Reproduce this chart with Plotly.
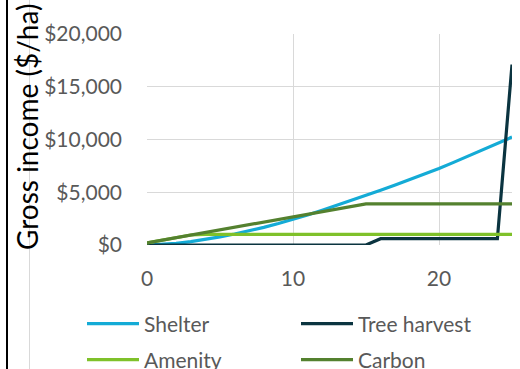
import plotly.graph_objects as go

years = list(range(26))
shelter = [0, 50, 150, 320, 530, 770, 1040, 1340, 1670, 2030, 2420, 2840, 3300, 3760,
           4230, 4700, 5190, 5690, 6200, 6720, 7250, 7830, 8420, 9020, 9620, 10230]
tree_harvest = [0, 0, 0, 0, 0, 0, 0, 0, 0, 0, 0, 0, 0, 0, 0, 0,
                600, 600, 600, 600, 600, 600, 600, 600, 600, 17100]
amenity = [200, 450, 700, 950, 1000, 1000, 1000, 1000, 1000, 1000, 1000, 1000, 1000,
           1000, 1000, 1000, 1000, 1000, 1000, 1000, 1000, 1000, 1000, 1000, 1000, 1000]
carbon = [200, 447, 693, 940, 1187, 1433, 1680, 1927, 2173, 2420, 2667, 2913, 3160,
          3407, 3653, 3900, 3900, 3900, 3900, 3900, 3900, 3900, 3900, 3900, 3900, 3900]

y_ticks = [0, 5000, 10000, 15000, 20000]
y_tick_labels = ["$0", "$5,000", "$10,000", "$15,000", "$20,000"]
x_ticks = [0, 10, 20]

FONT = "Lato"
GRAY = "#595959"
GRID = "#d9d9d9"

series = [
    ("Shelter", shelter, "#14abd6", "legend"),
    ("Tree harvest", tree_harvest, "#0b3440", "legend"),
    ("Amenity", amenity, "#7fc12a", "legend2"),
    ("Carbon", carbon, "#54812f", "legend2"),
]

fig = go.Figure()
for name, vals, color, lg in series:
    fig.add_trace(go.Scatter(x=years, y=vals, name=name, mode="lines",
                             line=dict(color=color, width=3.2), legend=lg))

W, H = 520, 369
ML, MR, MT, MB = 147, 8, 34, 124
pw = W - ML - MR
ph = H - MT - MB

def px(xp):
    return (xp - ML) / pw

def py(yp):
    return (H - MB - yp) / ph

legend_common = dict(orientation="h", xanchor="left", yanchor="middle",
                     font=dict(family=FONT, size=21, color=GRAY),
                     entrywidth=147, entrywidthmode="pixels",
                     bgcolor="rgba(0,0,0,0)", itemwidth=52,
                     itemclick=False)

fig.update_layout(
    width=W, height=H,
    margin=dict(l=ML, r=MR, t=MT, b=MB, autoexpand=False),
    paper_bgcolor="white", plot_bgcolor="white",
    showlegend=True,
    legend=dict(x=px(82), y=py(324), **legend_common),
    legend2=dict(x=px(82), y=py(360), **legend_common),
    xaxis=dict(range=[0, 25], tickvals=x_ticks, showgrid=True, gridcolor=GRID,
               gridwidth=1.3, zeroline=False, showline=False, automargin=False,
               tickfont=dict(family=FONT, size=21, color=GRAY),
               ticklabelstandoff=19),
    yaxis=dict(range=[0, 20000], tickvals=y_ticks, ticktext=y_tick_labels,
               showgrid=True, gridcolor=GRID, gridwidth=1.3, zeroline=False,
               showline=False, automargin=False,
               tickfont=dict(family=FONT, size=21, color=GRAY),
               ticklabelstandoff=24),
    annotations=[dict(text="Gross income ($/ha)", textangle=-90, showarrow=False,
                      xref="paper", yref="paper", x=px(27), y=py(127),
                      xanchor="center", yanchor="middle",
                      font=dict(family=FONT, size=28, color="black"))],
    shapes=[
        dict(type="line", xref="paper", yref="paper", x0=px(7), x1=px(7),
             y0=py(0), y1=py(H), line=dict(color="black", width=2)),
        dict(type="line", xref="paper", yref="paper", x0=px(29.5), x1=px(29.5),
             y0=py(0), y1=py(H), line=dict(color=GRID, width=1), layer="below"),
    ],
)

fig.write_html("out.html")
